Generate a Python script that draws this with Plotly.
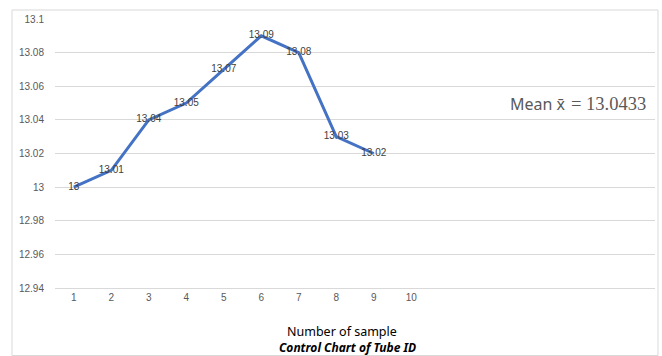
import plotly.graph_objects as go

samples = [1, 2, 3, 4, 5, 6, 7, 8, 9]
values = [13.00, 13.01, 13.04, 13.05, 13.07, 13.09, 13.08, 13.03, 13.02]
labels = ["13", "13.01", "13.04", "13.05", "13.07", "13.09", "13.08", "13.03", "13.02"]
x_ticks = [1, 2, 3, 4, 5, 6, 7, 8, 9, 10]
y_ticks = [12.94, 12.96, 12.98, 13.00, 13.02, 13.04, 13.06, 13.08, 13.10]
y_tick_text = ["12.94", "12.96", "12.98", "13", "13.02", "13.04", "13.06", "13.08", "13.1"]
mean_value = "13.0433"

fig = go.Figure()
fig.add_trace(go.Scatter(
    x=samples, y=values, mode="lines+text", text=labels,
    textposition="middle center",
    textfont=dict(family="Liberation Sans, Arial", size=10, color="#404040"),
    line=dict(color="#4472C4", width=3),
    cliponaxis=False, showlegend=False, hoverinfo="skip",
))

grid = "#D9D9D9"
fig.update_layout(
    width=662, height=356,
    margin=dict(l=55, r=7, t=19, b=68),
    paper_bgcolor="white", plot_bgcolor="white",
    xaxis=dict(range=[0.5, 16.5], tickvals=x_ticks, ticktext=[str(t) for t in x_ticks],
               showgrid=False, zeroline=False, showline=True, linecolor=grid, linewidth=1,
               ticks="", ticklen=0,
               tickfont=dict(family="Liberation Sans, Arial", size=10, color="#595959")),
    yaxis=dict(range=[12.94, 13.10], tickvals=y_ticks, ticktext=y_tick_text,
               showgrid=True, gridcolor=grid, gridwidth=1, zeroline=False, showline=False,
               ticks="", ticklabelstandoff=10,
               tickfont=dict(family="Liberation Sans, Arial", size=10, color="#595959")),
    shapes=[dict(type="rect", xref="paper", yref="paper",
                 x0=-0.0717, x1=1.005, y0=-0.251, y1=1.0335,
                 line=dict(color="#D9D9D9", width=1), fillcolor="rgba(0,0,0,0)")],
    annotations=[
        dict(xref="paper", yref="paper", x=0.478, y=-0.16, showarrow=False,
             xanchor="center", yanchor="middle",
             text="Number of sample",
             font=dict(family="Noto Sans", size=12.5, color="#000000")),
        dict(xref="paper", yref="paper", x=0.487, y=-0.22, showarrow=False,
             xanchor="center", yanchor="middle",
             text="<b><i>Control Chart of Tube ID</i></b>",
             font=dict(family="Noto Sans", size=12, color="#000000")),
        dict(xref="paper", yref="paper", x=(568 - 55) / 600, y=0.685, xanchor="right", yanchor="middle",
             showarrow=False, text="Mean x\u0304",
             font=dict(family="Noto Sans", size=16, color="#595959")),
        dict(xref="paper", yref="paper", x=(569 - 55) / 600, y=0.685, xanchor="left", yanchor="middle",
             showarrow=False, text="= " + mean_value,
             font=dict(family="Liberation Serif", size=18.5, color="#595959")),
    ],
)
fig.write_html("out.html")
